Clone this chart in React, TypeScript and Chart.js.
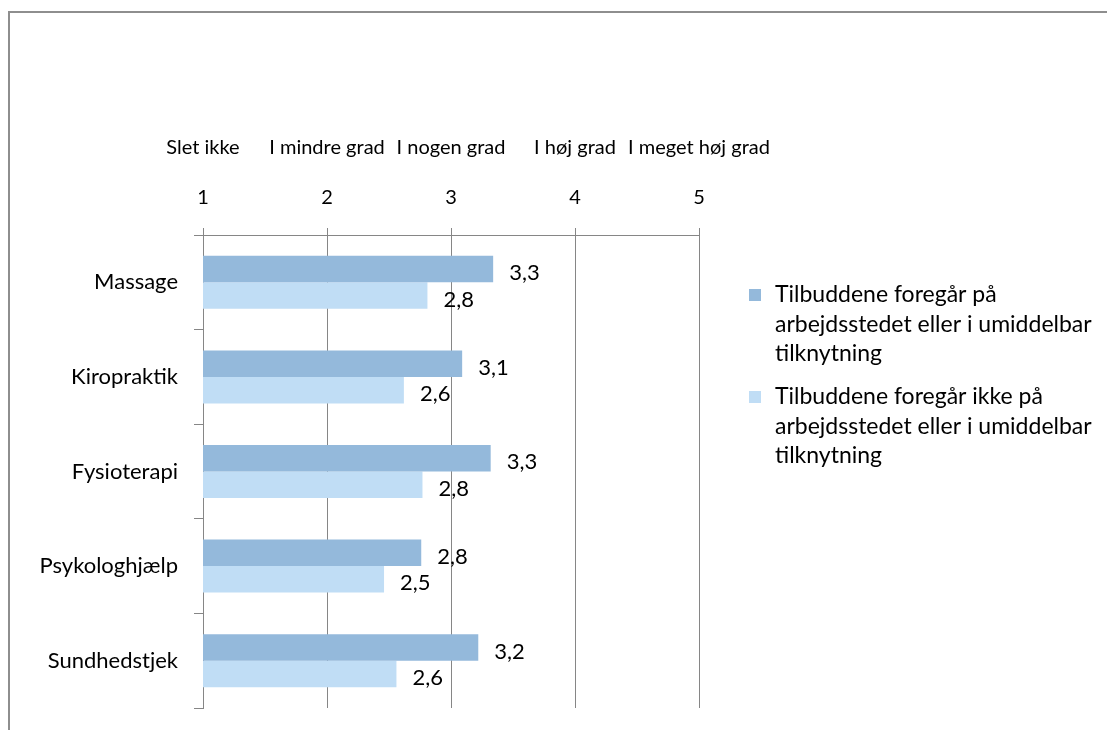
import React, { useEffect, useRef } from "react";
import { Chart, registerables } from "chart.js";

Chart.register(...registerables);

const categories = ["Massage", "Kiropraktik", "Fysioterapi", "Psykologhjælp", "Sundhedstjek"];
const onSiteValues = [3.34, 3.09, 3.32, 2.76, 3.22];
const offSiteValues = [2.81, 2.62, 2.77, 2.46, 2.56];
const seriesNames = [
  "Tilbuddene foregår på arbejdsstedet eller i umiddelbar tilknytning",
  "Tilbuddene foregår ikke på arbejdsstedet eller i umiddelbar tilknytning",
];
const legendLines = [
  ["Tilbuddene foregår på", "arbejdsstedet eller i umiddelbar", "tilknytning"],
  ["Tilbuddene foregår ikke på", "arbejdsstedet eller i umiddelbar", "tilknytning"],
];
const scaleTicks = [1, 2, 3, 4, 5];
const degreeLabels = ["Slet ikke", "I mindre grad", "I nogen grad", "I høj grad", "I meget høj grad"];

const FONT = "Lato, 'Noto Sans', sans-serif";
const AXIS_FONT_SIZE = 20;
const CAT_FONT_SIZE = 22;
const VALUE_FONT_SIZE = 22;
const LEGEND_FONT_SIZE = 23;
const GRID = "#868686";
const COLORS = ["#94B9DB", "#C0DDF5"];

const valueLabelPlugin = {
  id: "valueLabels",
  afterDatasetsDraw(chart: any) {
    const ctx = chart.ctx;
    ctx.save();
    ctx.font = `${VALUE_FONT_SIZE}px ${FONT}`;
    ctx.fillStyle = "#000";
    ctx.textAlign = "left";
    ctx.textBaseline = "middle";
    chart.data.datasets.forEach((ds: any, di: number) => {
      const meta = chart.getDatasetMeta(di);
      meta.data.forEach((el: any, i: number) => {
        const v = ds.data[i] as number;
        const txt = v.toFixed(1).replace(".", ",");
        ctx.fillText(txt, el.x + 16, el.y + 4);
      });
    });
    ctx.restore();
  },
};

const sideLegendPlugin = {
  id: "sideLegend",
  afterDraw(chart: any) {
    const ctx = chart.ctx;
    const boxX = 739;
    const textX = 765;
    const starts = [282, 384];
    const lh = 29.5;
    ctx.save();
    ctx.font = `${LEGEND_FONT_SIZE}px ${FONT}`;
    ctx.textAlign = "left";
    ctx.textBaseline = "middle";
    chart.data.datasets.forEach((ds: any, di: number) => {
      const y0 = starts[di];
      ctx.fillStyle = ds.backgroundColor;
      ctx.fillRect(boxX, y0 - 6, 12, 12);
      ctx.fillStyle = "#000";
      legendLines[di].forEach((line, li) => {
        ctx.fillText(line, textX, y0 + li * lh);
      });
    });
    ctx.restore();
  },
};

export default function App() {
  const ref = useRef<HTMLCanvasElement | null>(null);

  useEffect(() => {
    if (!ref.current) return;
    Chart.defaults.font.family = FONT;
    const chart = new Chart(ref.current, {
      type: "bar",
      data: {
        labels: categories,
        datasets: [
          {
            label: seriesNames[0],
            data: onSiteValues,
            backgroundColor: COLORS[0],
            borderWidth: 0,
            categoryPercentage: 0.56,
            barPercentage: 1,
          },
          {
            label: seriesNames[1],
            data: offSiteValues,
            backgroundColor: COLORS[1],
            borderWidth: 0,
            categoryPercentage: 0.56,
            barPercentage: 1,
          },
        ],
      },
      options: {
        indexAxis: "y",
        responsive: false,
        animation: false,
        layout: { padding: { top: 112, right: 408, bottom: 22, left: 0 } },
        plugins: {
          legend: { display: false },
          tooltip: { enabled: false },
        },
        scales: {
          x: {
            type: "linear",
            position: "top",
            min: scaleTicks[0],
            max: scaleTicks[scaleTicks.length - 1],
            ticks: {
              stepSize: 1,
              autoSkip: false,
              maxRotation: 0,
              padding: 18,
              color: "#000",
              font: { family: FONT, size: AXIS_FONT_SIZE, lineHeight: "25px" },
              callback: (v: any) => {
                const idx = scaleTicks.indexOf(Number(v));
                return [degreeLabels[idx] ?? "", "", String(v)];
              },
            },
            grid: { color: GRID, tickLength: 7, drawTicks: true, lineWidth: 1 },
            border: { color: GRID, width: 1 },
            afterFit: (s: any) => {
              s.height = 110;
              s.paddingLeft = 0;
              s.paddingRight = 0;
            },
          },
          y: {
            type: "category",
            grid: { display: true, drawOnChartArea: false, offset: true, tickLength: 9, color: GRID },
            border: { color: GRID, width: 1 },
            ticks: { padding: 16, color: "#000", font: { family: FONT, size: CAT_FONT_SIZE } },
            afterFit: (s: any) => {
              s.width = 193;
              s.paddingTop = 0;
              s.paddingBottom = 0;
            },
          },
        },
      },
      plugins: [valueLabelPlugin, sideLegendPlugin],
    } as any);
    return () => chart.destroy();
  }, []);

  return (
    <div
      style={{
        position: "fixed",
        left: 8,
        top: 11,
        width: 1110,
        height: 730,
        borderTop: "2px solid #8e8e8e",
        borderLeft: "2px solid #8e8e8e",
        background: "#fff",
      }}
    >
      <canvas ref={ref} width={1097} height={717} style={{ display: "block", width: 1097, height: 717 }} />
    </div>
  );
}
